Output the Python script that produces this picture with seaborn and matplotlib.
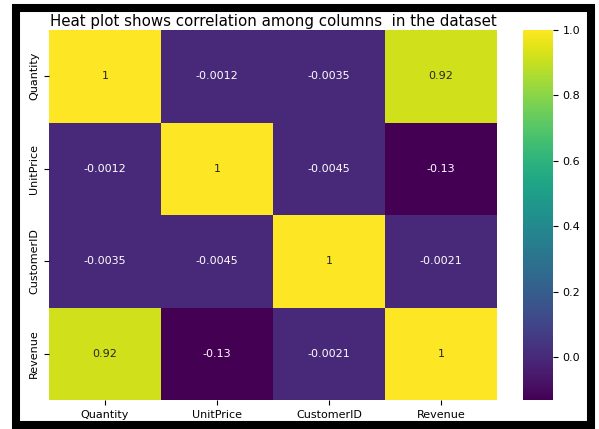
import numpy as np
import pandas as pd
import matplotlib
matplotlib.use("Agg")
import matplotlib.pyplot as plt
from matplotlib.patches import Rectangle
import seaborn as sns

columns = ["Quantity", "UnitPrice", "CustomerID", "Revenue"]
row_quantity = [1.0, -0.0012, -0.0035, 0.92]
row_unitprice = [-0.0012, 1.0, -0.0045, -0.13]
row_customer = [-0.0035, -0.0045, 1.0, -0.0021]
row_revenue = [0.92, -0.13, -0.0021, 1.0]

corr = pd.DataFrame([row_quantity, row_unitprice, row_customer, row_revenue],
                    index=columns, columns=columns)

W, H = 599, 429
fig = plt.figure(figsize=(W / 100, H / 100), dpi=100)

# black frame around the figure (rectangle drawn in pixel-based figure fractions)
top_px, bottom_px = 7.5, 425
frame = Rectangle((16 / W, 1 - bottom_px / H), (591 - 16) / W,
                  (bottom_px - top_px) / H,
                  transform=fig.transFigure, fill=False,
                  edgecolor="black", linewidth=5.8, zorder=10)
fig.patches.append(frame)

ax = fig.add_axes([49 / W, 1 - 400 / H, (497 - 49) / W, (400 - 30) / H])
cax = fig.add_axes([523 / W, 1 - 400 / H, (553 - 523) / W, (400 - 30) / H])

sns.heatmap(corr, annot=True, cmap="viridis", ax=ax, cbar_ax=cax,
            annot_kws={"fontsize": 8})

ax.set_title("Heat plot shows correlation among columns  in the dataset",
             fontsize=10.8, pad=3)
ax.tick_params(axis="both", labelsize=8)
ax.set_yticklabels(columns, rotation=90, va="center")
ax.set_xticklabels(columns, rotation=0)
cax.tick_params(labelsize=8)

fig.savefig("out.png", dpi=100)
